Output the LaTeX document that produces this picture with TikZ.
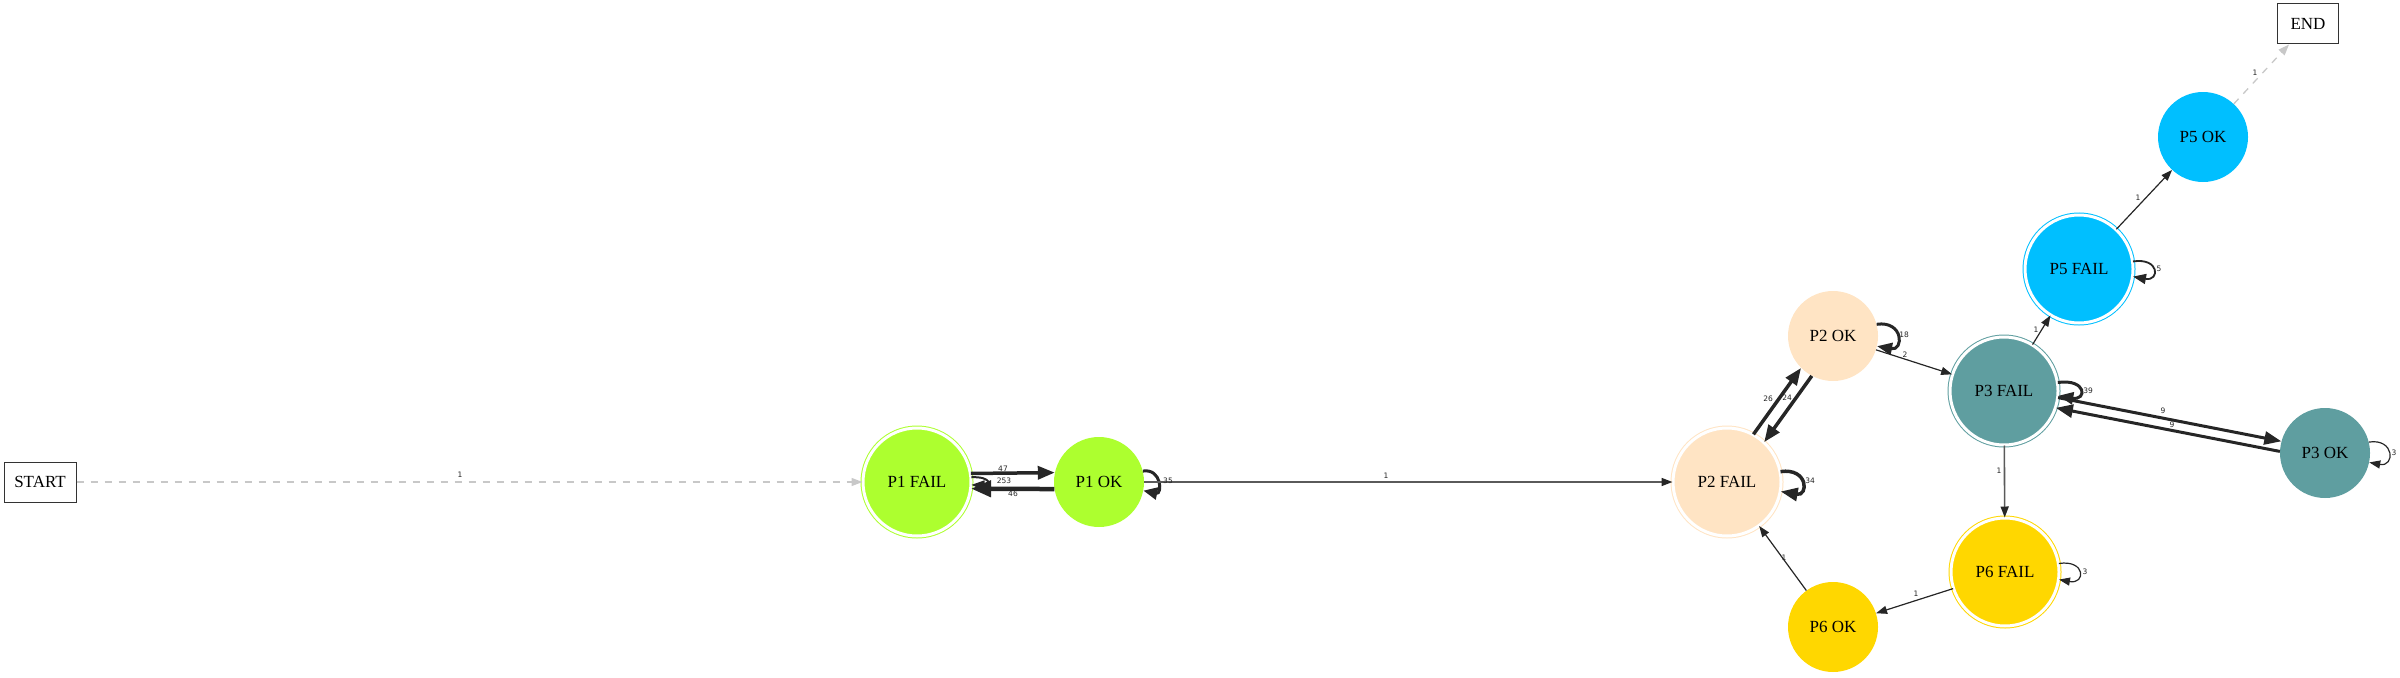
\documentclass[tikz,border=0pt]{standalone}
\usepackage{fontspec}
\setmainfont{Liberation Serif}
\newfontfamily\lblfont{DejaVu Sans}
\usetikzlibrary{arrows.meta}
\definecolor{cP1}{HTML}{ADFF2F}
\definecolor{cP2}{HTML}{FFE4C4}
\definecolor{cP3}{HTML}{5F9EA0}
\definecolor{cP5}{HTML}{00BFFF}
\definecolor{cP6}{HTML}{FFD700}
\definecolor{edark}{HTML}{262626}
\definecolor{egray}{HTML}{5A5A5A}
\definecolor{elight}{HTML}{C8C8C8}
\tikzset{
  state/.style={circle, inner sep=0pt, minimum size=90pt, fill=#1, draw=none, font=\fontsize{17}{20}\selectfont},
  dstate/.style={circle, inner sep=0pt, minimum size=108pt, fill=#1, draw=#1, line width=1pt, double=white, double distance=3pt, font=\fontsize{17}{20}\selectfont},
  termbox/.style={rectangle, draw=black!80, line width=1pt, fill=white, minimum height=40pt, inner sep=0pt, font=\fontsize{17}{20}\selectfont},
  lbl/.style={inner sep=0pt, font=\lblfont\fontsize{7.5}{8}\selectfont, text=edark},
  ethick/.style={draw=edark, line width=3.5pt, -{Triangle[length=17pt,width=13pt]}},
  emid/.style={draw=edark, line width=2pt, -{Triangle[length=13pt,width=10pt]}},
  ethin/.style={draw=edark, line width=1.2pt, -{Triangle[length=11pt,width=8pt]}},
  egraythin/.style={draw=egray, line width=1.6pt, -{Triangle[length=11pt,width=8pt,fill=edark,color=edark]}},
  edash/.style={draw=elight, line width=1.3pt, dash pattern=on 7pt off 7pt, -{Triangle[length=11pt,width=8pt,fill=elight,color=elight]}},
}
\begin{document}
\begin{tikzpicture}[x=1pt, y=-1pt]
\useasboundingbox (0,0) rectangle (2400,677);
% nodes
\node[termbox, minimum width=72pt] (start) at (40,482) {START};
\node[termbox, minimum width=61pt] (end) at (2308,24) {END};
\node[dstate=cP1] (p1f) at (917,482) {P1 FAIL};
\node[state=cP1] (p1o) at (1099,482) {P1 OK};
\node[dstate=cP2] (p2f) at (1727,482) {P2 FAIL};
\node[state=cP2] (p2o) at (1833,336) {P2 OK};
\node[dstate=cP3] (p3f) at (2004,391) {P3 FAIL};
\node[state=cP3] (p3o) at (2325,453) {P3 OK};
\node[dstate=cP5] (p5f) at (2079,269) {P5 FAIL};
\node[state=cP5] (p5o) at (2203,137) {P5 OK};
\node[dstate=cP6] (p6f) at (2005,572) {P6 FAIL};
\node[state=cP6] (p6o) at (1833,627) {P6 OK};
% edges
\draw[edash] (start) -- (p1f);
\draw[emid] (p1f.5) .. controls +(20,-1) and +(20,1) .. (p1f.-3);
\draw[ethick] (p1f.9) -- (p1o.168);
\draw[ethick, line width=4.5pt, -{Triangle[length=20pt,width=16pt]}] (p1o.-171) -- (p1f.-7);
\draw[ethick, line width=3pt, -{Triangle[length=14pt,width=12pt]}] (p1o.14) .. controls +(19,-3) and +(19,4) .. (p1o.-11);
\draw[egraythin] (p1o) -- (p2f);
\draw[ethick] (p2f.61) -- (p2o.-135);
\draw[ethick] (p2o.-118) -- (p2f.47);
\draw[ethick, line width=3.5pt] (p2f.11) .. controls +(28,-4) and +(28,5) .. (p2f.-10);
\draw[ethick, line width=3pt, -{Triangle[length=15pt,width=12pt]}] (p2o.15) .. controls +(27,-4) and +(27,5) .. (p2o.-13);
\draw[ethin] (p2o) -- (p3f);
\draw[ethin] (p3f) -- (p5f);
\draw[ethick, line width=3pt, -{Triangle[length=15pt,width=12pt]}] (p3f.9) .. controls +(29,-4) and +(29,5) .. (p3f.-5);
\draw[ethick, line width=3pt] (p3f.-7) -- (p3o.165);
\draw[ethick, line width=3pt] (p3o.178) -- (p3f.-18);
\draw[ethin] (p3o.14) .. controls +(26,-4) and +(26,5) .. (p3o.-12);
\draw[egraythin] (p3f) -- (p6f);
\draw[ethin] (p6f.9) .. controls +(27,-4) and +(27,5) .. (p6f.-8);
\draw[ethin] (p6f) -- (p6o);
\draw[ethin] (p6o) -- (p2f);
\draw[ethin] (p5f) -- (p5o);
\draw[emid, line width=1.8pt] (p5f.8) .. controls +(27,-4) and +(27,5) .. (p5f.-8);
\draw[edash] (p5o) -- (end);
% labels
\node[lbl] (l01) at (460,475) {1};
\node[lbl] (l02) at (1003,469) {47};
\node[lbl] (l03) at (1013,494) {46};
\node[lbl] (l04) at (1004,481) {253};
\node[lbl] (l05) at (1168,481) {35};
\node[lbl] (l06) at (1386,476) {1};
\node[lbl] (l07) at (1768,399) {26};
\node[lbl] (l08) at (1787,398) {24};
\node[lbl] (l09) at (1810,481) {34};
\node[lbl] (l10) at (1904,335) {18};
\node[lbl] (l11) at (1905,355) {2};
\node[lbl] (l12) at (2036,330) {1};
\node[lbl] (l13) at (2088,391) {39};
\node[lbl] (l14) at (2163,411) {9};
\node[lbl] (l15) at (2172,425) {9};
\node[lbl] (l16) at (2394,453) {3};
\node[lbl] (l17) at (1999,471) {1};
\node[lbl] (l18) at (2085,572) {3};
\node[lbl] (l19) at (1916,594) {1};
\node[lbl] (l20) at (1784,558) {1};
\node[lbl] (l21) at (2138,198) {1};
\node[lbl] (l22) at (2159,269) {5};
\node[lbl] (l23) at (2255,73) {1};
\end{tikzpicture}
\end{document}
